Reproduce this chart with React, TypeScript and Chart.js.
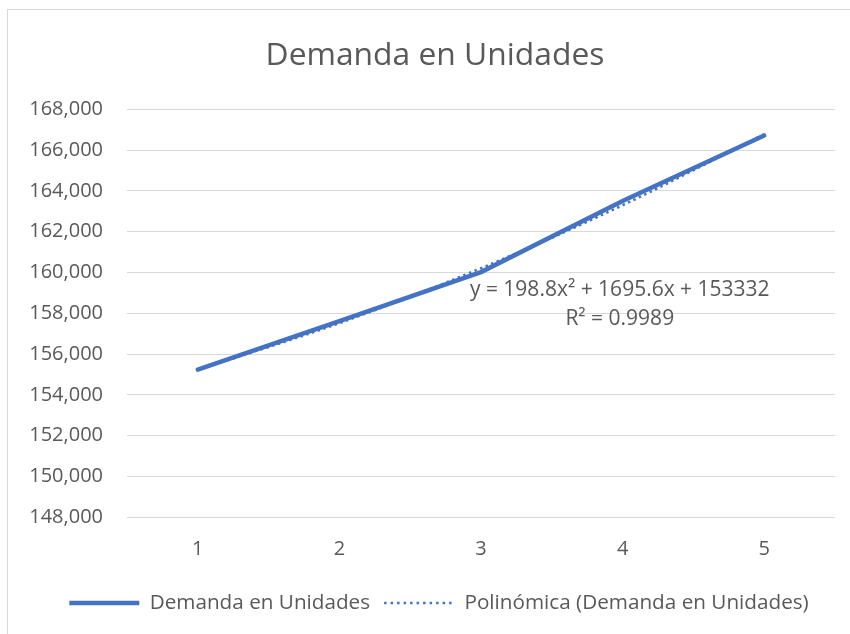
import React, { useEffect, useRef } from "react";
import { Chart, registerables } from "chart.js";

Chart.register(...registerables);

const categories = ["1", "2", "3", "4", "5"];
const demand = [155240, 157610, 160020, 163500, 166710];
const trend = [155226, 157518, 160208, 163295, 166780];
const yMin = 148000;
const yMax = 168000;
const yStep = 2000;
const titleText = "Demanda en Unidades";
const seriesLabels = ["Demanda en Unidades", "Polinómica (Demanda en Unidades)"];
const equationText = "y = 198.8x² + 1695.6x + 153332";
const r2Text = "R² = 0.9989";

const FONT = "'Open Sans', 'Noto Sans', sans-serif";
const TEXT = "#595959";
const BLUE = "#4472C4";
const GRID = "#d9d9d9";

const frame = {
  id: "frame",
  beforeDraw(chart: any) {
    const ctx = chart.ctx;
    ctx.save();
    ctx.fillStyle = "#ffffff";
    ctx.fillRect(0, 0, chart.width, chart.height);
    ctx.strokeStyle = GRID;
    ctx.lineWidth = 1;
    ctx.strokeRect(7.5, 9.5, chart.width, chart.height);
    ctx.restore();
  },
};

const centerBoxes = {
  id: "centerBoxes",
  afterLayout(chart: any) {
    if (chart.titleBlock) chart.titleBlock.left = 35;
    if (chart.legend) chart.legend.left = 43;
  },
};

const equation = {
  id: "equation",
  afterDatasetsDraw(chart: any) {
    const ctx = chart.ctx;
    const a = chart.chartArea;
    const w = a.right - a.left;
    const h = a.bottom - a.top;
    const cx = a.left + w * 0.696;
    ctx.save();
    ctx.font = `21px ${FONT}`;
    ctx.fillStyle = TEXT;
    ctx.textAlign = "center";
    ctx.textBaseline = "middle";
    ctx.fillText(equationText, cx, a.top + h * 0.442);
    ctx.fillText(r2Text, cx, a.top + h * 0.514);
    ctx.restore();
  },
};

export default function App() {
  const ref = useRef<HTMLCanvasElement | null>(null);

  useEffect(() => {
    if (!ref.current) return;
    const chart = new Chart(ref.current, {
      type: "line",
      data: {
        labels: categories,
        datasets: [
          {
            label: seriesLabels[0],
            data: demand,
            borderColor: BLUE,
            backgroundColor: BLUE,
            borderWidth: 4.5,
            pointRadius: 0,
            tension: 0,
            borderCapStyle: "round",
          },
          {
            label: seriesLabels[1],
            data: trend,
            borderColor: BLUE,
            backgroundColor: BLUE,
            borderWidth: 2.5,
            borderDash: [2.5, 3.5],
            pointRadius: 0,
            cubicInterpolationMode: "monotone",
          },
        ],
      },
      options: {
        animation: false,
        responsive: false,
        layout: { padding: { left: 10, right: 15, top: 0, bottom: 10.65 } },
        plugins: {
          title: {
            display: true,
            text: titleText,
            color: TEXT,
            font: { size: 31.8, family: FONT, weight: "normal" },
            padding: { top: 36.9, bottom: 34.2 },
          },
          legend: {
            position: "bottom",
            labels: {
              usePointStyle: true,
              pointStyleWidth: 70,
              color: TEXT,
              padding: 14,
              font: { size: 20.7, family: FONT },
              generateLabels: () =>
                seriesLabels.map((t, i) => ({
                  text: t,
                  fillStyle: BLUE,
                  strokeStyle: BLUE,
                  lineWidth: i === 0 ? 4.5 : 2.5,
                  lineDash: i === 0 ? [] : [2.5, 4],
                  pointStyle: "line",
                  hidden: false,
                  datasetIndex: i,
                  fontColor: TEXT,
                })),
            },
          },
          tooltip: { enabled: false },
        },
        scales: {
          x: {
            type: "category",
            offset: true,
            grid: { display: false, drawTicks: false },
            border: { display: false },
            ticks: { color: TEXT, font: { size: 20, family: FONT }, padding: 20 },
            afterFit: (s: any) => {
              s.height = 61.35;
            },
          },
          y: {
            min: yMin,
            max: yMax,
            grid: { color: GRID, lineWidth: 1, drawTicks: false },
            border: { display: false },
            ticks: {
              stepSize: yStep,
              color: TEXT,
              padding: 24,
              font: { size: 20, family: FONT },
              callback: (v: any) => Number(v).toLocaleString("en-US"),
            },
            afterFit: (s: any) => {
              s.width = 117;
            },
          },
        },
      },
      plugins: [frame, centerBoxes, equation],
    });
    return () => chart.destroy();
  }, []);

  return (
    <div style={{ position: "absolute", left: 0, top: 0, width: 850, height: 634 }}>
      <canvas ref={ref} width={850} height={634} style={{ display: "block" }} />
    </div>
  );
}
